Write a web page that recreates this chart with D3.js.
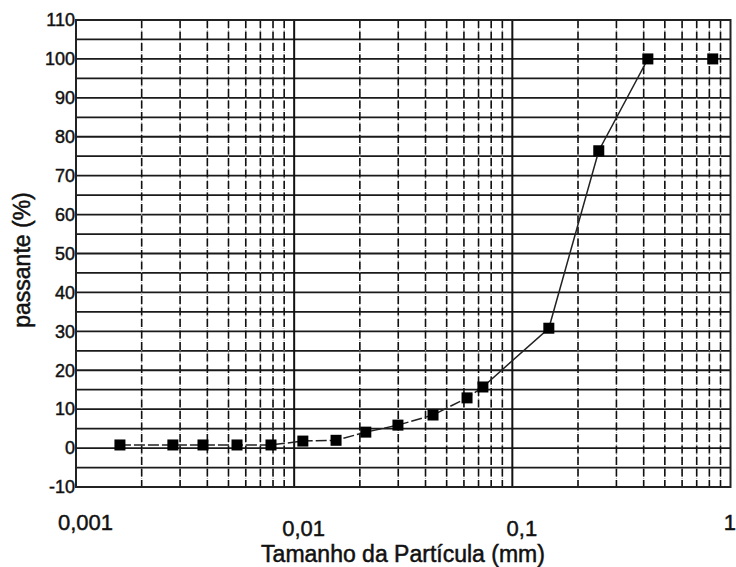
<!DOCTYPE html>
<html>
<head>
<meta charset="utf-8">
<script src="https://cdn.jsdelivr.net/npm/d3@7"></script>
<style>
  html, body { margin: 0; padding: 0; background: #fff; }
  svg { display: block; }
</style>
</head>
<body>
<svg id="chart" width="736" height="567"></svg>
<script>
// ---- data ----
const particleSizes = [0.00159, 0.00278, 0.00382, 0.00547, 0.00783, 0.01096, 0.01556, 0.0213, 0.0299, 0.0433, 0.0620, 0.0733, 0.147, 0.249, 0.418, 0.829];
const passingPct    = [0.8, 0.8, 0.8, 0.8, 0.8, 1.8, 2.0, 4.1, 5.9, 8.5, 12.9, 15.7, 30.8, 76.4, 100, 100];
const xTickValues = [0.001, 0.01, 0.1, 1];
const xTickLabels = ["0,001", "0,01", "0,1", "1"];
const yTickValues = [-10, 0, 10, 20, 30, 40, 50, 60, 70, 80, 90, 100, 110];
const xTitle = "Tamanho da Partícula (mm)";
const yTitle = "passante (%)";

(function () {
const data = particleSizes.map((d, i) => ({ x: d, y: passingPct[i] }));

const svg = d3.select("#chart");
const pL = 76, pR = 730.5, pT = 20, pB = 487;
const x = d3.scaleLog().domain([0.001, 1]).range([pL, pR]);
const y = d3.scaleLinear().domain([-10, 110]).range([pB, pT]);
const font = "'Liberation Sans', Arial, sans-serif";
const ink = "#111";

// horizontal grid every 5
const hLines = d3.range(-10, 111, 5);
svg.append("g").selectAll("line").data(hLines).join("line")
  .attr("x1", pL).attr("x2", pR)
  .attr("y1", d => y(d)).attr("y2", d => y(d))
  .attr("stroke", "#1a1a1a").attr("stroke-width", 1.8);

// minor vertical grid
const minor = [];
for (let e = -3; e < 0; e++) for (let k = 2; k <= 9; k++) minor.push(k * Math.pow(10, e));
const gMinor = svg.append("g");
gMinor.selectAll("line.bg").data(minor).join("line").attr("class", "bg")
  .attr("x1", d => x(d)).attr("x2", d => x(d))
  .attr("y1", pT).attr("y2", pB)
  .attr("stroke", "#a8a8a8").attr("stroke-width", 1).attr("stroke-dasharray", "1,1");
gMinor.selectAll("line.fg").data(minor).join("line").attr("class", "fg")
  .attr("x1", d => x(d)).attr("x2", d => x(d))
  .attr("y1", pT).attr("y2", pB)
  .attr("stroke", ink).attr("stroke-width", 1.6).attr("stroke-dasharray", "8,3.5");

// major vertical grid
svg.append("g").selectAll("line").data([0.01, 0.1]).join("line")
  .attr("x1", d => x(d)).attr("x2", d => x(d))
  .attr("y1", pT).attr("y2", pB)
  .attr("stroke", ink).attr("stroke-width", 2);

// frame
svg.append("rect").attr("x", pL).attr("y", pT)
  .attr("width", pR - pL).attr("height", pB - pT)
  .attr("fill", "none").attr("stroke", "#222").attr("stroke-width", 2);

// data line: dashed lower part, solid upper part
const line = d3.line().x(d => x(d.x)).y(d => y(d.y));
svg.append("path").datum(data.slice(0, 12)).attr("d", line)
  .attr("fill", "none").attr("stroke", "#222").attr("stroke-width", 1.5)
  .attr("stroke-dasharray", "11,3");
svg.append("path").datum(data.slice(11)).attr("d", line)
  .attr("fill", "none").attr("stroke", "#222").attr("stroke-width", 1.5);

// markers
const ms = 11;
svg.append("g").selectAll("rect").data(data).join("rect")
  .attr("x", d => x(d.x) - ms / 2).attr("y", d => y(d.y) - ms / 2)
  .attr("width", ms).attr("height", ms).attr("fill", "#000");

// y axis
const yAxis = svg.append("g").attr("transform", `translate(${pL - 1},0)`)
  .call(d3.axisLeft(y).tickValues(yTickValues).tickSize(0).tickPadding(0).tickFormat(d => String(d)));
yAxis.select(".domain").remove();
yAxis.selectAll("text").attr("font-family", font).attr("font-size", 18)
  .attr("fill", ink).attr("stroke", ink).attr("stroke-width", 0.45);

// x axis
const xAxis = svg.append("g").attr("transform", `translate(0,${pB})`)
  .call(d3.axisBottom(x).tickValues(xTickValues).tickSize(0)
    .tickFormat((d, i) => xTickLabels[i]));
xAxis.select(".domain").remove();
xAxis.selectAll("text")
  .attr("font-family", font).attr("font-size", 22)
  .attr("fill", ink).attr("stroke", ink).attr("stroke-width", 0.45)
  .attr("dy", null)
  .attr("y", (d, i) => (i === 1 || i === 2) ? 49 : 43)
  .attr("dx", (d, i) => i === xTickValues.length - 1 ? 5 : 9)
  .attr("text-anchor", (d, i) => i === xTickValues.length - 1 ? "end" : "middle");

// titles
svg.append("text").attr("x", 403).attr("y", 562)
  .attr("text-anchor", "middle").attr("font-family", font).attr("font-size", 23)
  .attr("fill", ink).attr("stroke", ink).attr("stroke-width", 0.5).text(xTitle);
svg.append("text").attr("transform", "translate(30,260) rotate(-90)")
  .attr("text-anchor", "middle").attr("font-family", font).attr("font-size", 23)
  .attr("fill", ink).attr("stroke", ink).attr("stroke-width", 0.5).text(yTitle);
})();
</script>
</body>
</html>
